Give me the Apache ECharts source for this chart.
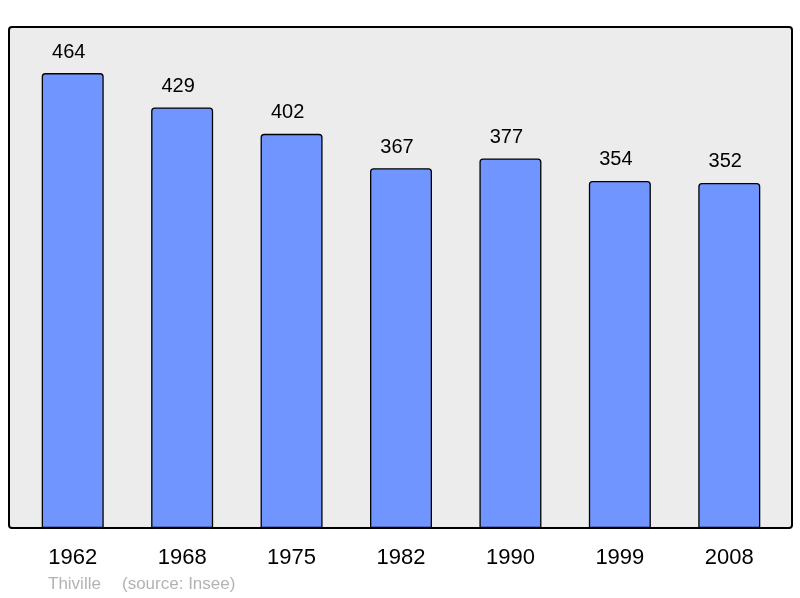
<!DOCTYPE html>
<html><head><meta charset="utf-8">
<script src="https://cdn.jsdelivr.net/npm/echarts@6/dist/echarts.min.js"></script>
<style>html,body{margin:0;padding:0;background:#fff}#c{width:800px;height:598px}</style>
</head><body><div id="c"></div>
<script>
const years = ['1962','1968','1975','1982','1990','1999','2008'];
const population = [464, 429, 402, 367, 377, 354, 352];
const footerName = 'Thiville';
const footerSource = '(source: Insee)';

const chart = echarts.init(document.getElementById('c'), null, {renderer:'canvas'});
chart.setOption({
  animation:false,
  grid:{left:18,right:16,top:27,bottom:70},
  graphic:[
    {type:'rect',z:-10,shape:{x:9,y:27,width:783,height:501,r:3},style:{fill:'#ececec',stroke:'#000',lineWidth:2}},
    {type:'text',left:48,top:576,style:{text:footerName,fill:'#b3b3b3',font:'17px "Liberation Sans", Arial, sans-serif'}},
    {type:'text',left:122,top:576,style:{text:footerSource,fill:'#b3b3b3',font:'17px "Liberation Sans", Arial, sans-serif'}}
  ],
  xAxis:{type:'category',data:years,axisLine:{show:false},axisTick:{show:false},
    axisLabel:{color:'#000',fontSize:22,fontFamily:'Liberation Sans, Arial, sans-serif',margin:19}},
  yAxis:{type:'value',min:0,max:511,show:false,splitLine:{show:false}},
  series:[{type:'bar',data:population,barWidth:62,z:2,
    itemStyle:{color:'#7095ff',borderColor:'#000',borderWidth:1.3,borderRadius:[3,3,0,0]},
    label:{show:true,position:'top',distance:11,offset:[-4,0],color:'#000',fontSize:20,fontFamily:'Liberation Sans, Arial, sans-serif'}}]
});
</script></body></html>
